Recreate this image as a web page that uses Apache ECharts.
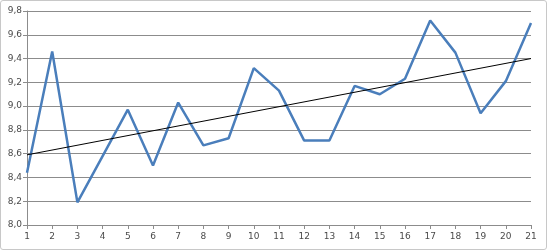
<!DOCTYPE html>
<html>
<head>
<meta charset="utf-8">
<script src="https://cdn.jsdelivr.net/npm/echarts@6/dist/echarts.min.js"></script>
<style>
html,body{margin:0;padding:0;background:#fff;}
#c{width:545px;height:248px;border:1px solid #c8c8c8;border-radius:3px;}
</style>
</head>
<body>
<div id="c"></div>
<script>
var xValues = [1,2,3,4,5,6,7,8,9,10,11,12,13,14,15,16,17,18,19,20,21];
var seriesValues = [8.44,9.46,8.19,8.58,8.97,8.50,9.03,8.67,8.73,9.32,9.13,8.71,8.71,9.17,9.10,9.23,9.72,9.45,8.94,9.21,9.70];
var trendX = [1,21];
var trendValues = [8.59,9.40];
var yTicks = [8.0,8.2,8.4,8.6,8.8,9.0,9.2,9.4,9.6,9.8];

var chart = echarts.init(document.getElementById('c'));
var labelStyle = {color:'#4a4a4a',fontFamily:'DejaVu Sans',fontSize:9};
chart.setOption({
  animation:false,
  grid:{left:26,right:15,top:10,bottom:24},
  xAxis:{
    type:'value',min:1,max:21,interval:1,
    axisLine:{lineStyle:{color:'#8c8c8c',width:1}},
    axisTick:{show:true,length:4,lineStyle:{color:'#8c8c8c'}},
    axisLabel:Object.assign({margin:7,formatter:function(v){return String(v);}},labelStyle),
    splitLine:{show:false}
  },
  yAxis:{
    type:'value',min:8.0,max:9.8,interval:0.2,
    axisLine:{show:true,lineStyle:{color:'#8c8c8c',width:1}},
    axisTick:{show:true,length:4,lineStyle:{color:'#8c8c8c'}},
    axisLabel:Object.assign({margin:5,formatter:function(v){return v.toFixed(1).replace('.',',');}},labelStyle),
    splitLine:{show:true,lineStyle:{color:'#8c8c8c',width:1}}
  },
  series:[
    {type:'line',data:xValues.map(function(x,i){return [x,seriesValues[i]];}),
     showSymbol:false,symbol:'none',lineStyle:{color:'#4a7ebb',width:2.5},z:3},
    {type:'line',data:trendX.map(function(x,i){return [x,trendValues[i]];}),
     showSymbol:false,symbol:'none',lineStyle:{color:'#000000',width:1},z:4}
  ]
});
</script>
</body>
</html>
